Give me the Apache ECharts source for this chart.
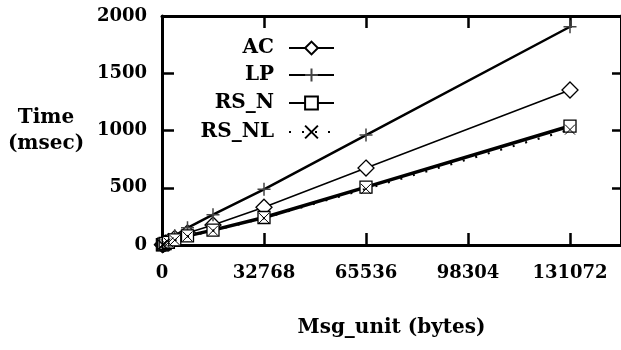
<!DOCTYPE html>
<html><head><meta charset="utf-8">
<script src="https://cdn.jsdelivr.net/npm/echarts@6/dist/echarts.min.js"></script>
<style>html,body{margin:0;padding:0;background:#fff;overflow:hidden}#c{width:621px;height:350px}</style>
</head><body><div id="c"></div>
<script>
const msgUnit = [128, 256, 512, 1024, 2048, 4096, 8192, 16384, 32768, 65536, 131072];
const acTime  = [3, 5, 9, 17, 30, 58, 105, 175, 330, 672, 1354];
const lpTime  = [4, 7, 12, 22, 40, 80, 150, 265, 486, 960, 1906];
const rsnTime = [2, 4, 7, 13, 24, 45, 80, 130, 240, 505, 1039];
const rsnlTime = [2, 3, 6, 12, 22, 42, 75, 125, 235, 490, 1008];
const xTicks = [0, 32768, 65536, 98304, 131072];
const yTicks = [0, 500, 1000, 1500, 2000];
const seriesNames = ['AC', 'LP', 'RS_N', 'RS_NL'];

const FONT = 'DejaVu Serif';
const pair = ys => msgUnit.map((x, i) => [x, ys[i]]);
const PLUS = 'path://M0,5L10,5M5,0L5,10';
const CROSS = 'path://M0,0L10,10M0,10L10,0';

const chart = echarts.init(document.getElementById('c'), null, {renderer: 'canvas'});
const axisLine = () => ({show: true, onZero: false, lineStyle: {color: '#000', width: 3}});
const xRange = () => ({type: 'value', min: 0, max: 147456, interval: 32768});
const yRange = () => ({type: 'value', min: 0, max: 2000, interval: 500});
// tick-only axis in its own grid: outward ticks that land inside the main plot frame
const tickAxis = (range, grid, pos) => Object.assign(range, {gridIndex: grid, position: pos,
  axisLine: {show: false, onZero: false},
  axisTick: {show: true, inside: false, length: 12, lineStyle: {color: '#000', width: 2.5}},
  axisLabel: {show: false}, splitLine: {show: false}});
const hidden = (range, grid) => Object.assign(range, {gridIndex: grid, show: false});
const frameAxis = (range, pos) => Object.assign(range, {gridIndex: 0, position: pos, axisLine: axisLine(),
  axisTick: {show: false}, axisLabel: {show: false}, splitLine: {show: false}});
const legendBase = (name, top) => ({
  data: [name], orient: 'horizontal', align: 'right', right: 286, top: top,
  itemWidth: 45, itemHeight: 16, padding: 0,
  textStyle: {fontFamily: FONT, fontSize: 20, fontWeight: 'bold', color: '#000', padding: [0, 10, 0, 0]},
  selectedMode: false
});
const sym = {color: '#fff', borderColor: '#000', borderWidth: 1.3};
chart.setOption({
  animation: false,
  backgroundColor: '#fff',
  grid: [
    {left: 162, top: 16, right: -3, bottom: 105},   // main plot
    {left: 162, right: -3, top: 245, height: 10},    // bottom ticks (pointing up)
    {left: 162, right: -3, top: 6, height: 10},      // top ticks (pointing down)
    {left: 150, width: 12, top: 16, bottom: 105},    // left ticks (pointing right)
    {left: 624, width: 10, top: 16, bottom: 105}     // right ticks (pointing left)
  ],
  xAxis: [
    Object.assign(xRange(), {gridIndex: 0, position: 'bottom',
      axisLine: axisLine(), axisTick: {show: false}, splitLine: {show: false},
      name: 'Msg_unit (bytes)', nameLocation: 'middle', nameGap: 73,
      nameTextStyle: {fontFamily: FONT, fontSize: 20, fontWeight: 'bold', color: '#000'},
      axisLabel: {show: true, margin: 19, showMaxLabel: false, fontFamily: FONT, fontSize: 18, fontWeight: 'bold', color: '#000',
        formatter: v => xTicks.indexOf(v) >= 0 ? String(v) : ''}}),
    frameAxis(xRange(), 'top'),
    tickAxis(xRange(), 1, 'top'),
    tickAxis(xRange(), 2, 'bottom'),
    hidden(xRange(), 3),
    hidden(xRange(), 4)
  ],
  yAxis: [
    Object.assign(yRange(), {gridIndex: 0, position: 'left',
      axisLine: axisLine(), axisTick: {show: false}, splitLine: {show: false},
      name: 'Time\n(msec)', nameLocation: 'middle', nameGap: 116, nameRotate: 0,
      nameTextStyle: {fontFamily: FONT, fontSize: 20, fontWeight: 'bold', color: '#000', align: 'center', lineHeight: 26},
      axisLabel: {show: true, margin: 15, fontFamily: FONT, fontSize: 18, fontWeight: 'bold', color: '#000',
        formatter: v => yTicks.indexOf(v) >= 0 ? String(v) : ''}}),
    frameAxis(yRange(), 'right'),
    hidden(yRange(), 1),
    hidden(yRange(), 2),
    tickAxis(yRange(), 3, 'right'),
    tickAxis(yRange(), 4, 'left')
  ],
  legend: [legendBase('AC', 38), legendBase('LP', 65), legendBase('RS_N', 93), legendBase('RS_NL', 122)],
  series: [
    {name: seriesNames[0], type: 'line', xAxisIndex: 0, yAxisIndex: 0, data: pair(acTime), symbol: 'diamond', symbolSize: 16,
      lineStyle: {color: '#000', width: 1.5}, itemStyle: sym, z: 3},
    {name: seriesNames[1], type: 'line', xAxisIndex: 0, yAxisIndex: 0, data: pair(lpTime), symbol: PLUS, symbolSize: 13,
      lineStyle: {color: '#000', width: 2.5}, itemStyle: {color: '#fff', borderColor: '#444', borderWidth: 1.5}, z: 3},
    {name: seriesNames[2], type: 'line', xAxisIndex: 0, yAxisIndex: 0, data: pair(rsnTime), symbol: 'rect', symbolSize: 12,
      lineStyle: {color: '#000', width: 3.5}, itemStyle: sym, z: 3},
    {name: seriesNames[3], type: 'line', xAxisIndex: 0, yAxisIndex: 0, data: pair(rsnlTime), symbol: CROSS, symbolSize: 10,
      lineStyle: {color: '#000', width: 2.2, type: [2, 11]}, itemStyle: {color: '#fff', borderColor: '#000', borderWidth: 1}, z: 4}
  ]
});
</script></body></html>
